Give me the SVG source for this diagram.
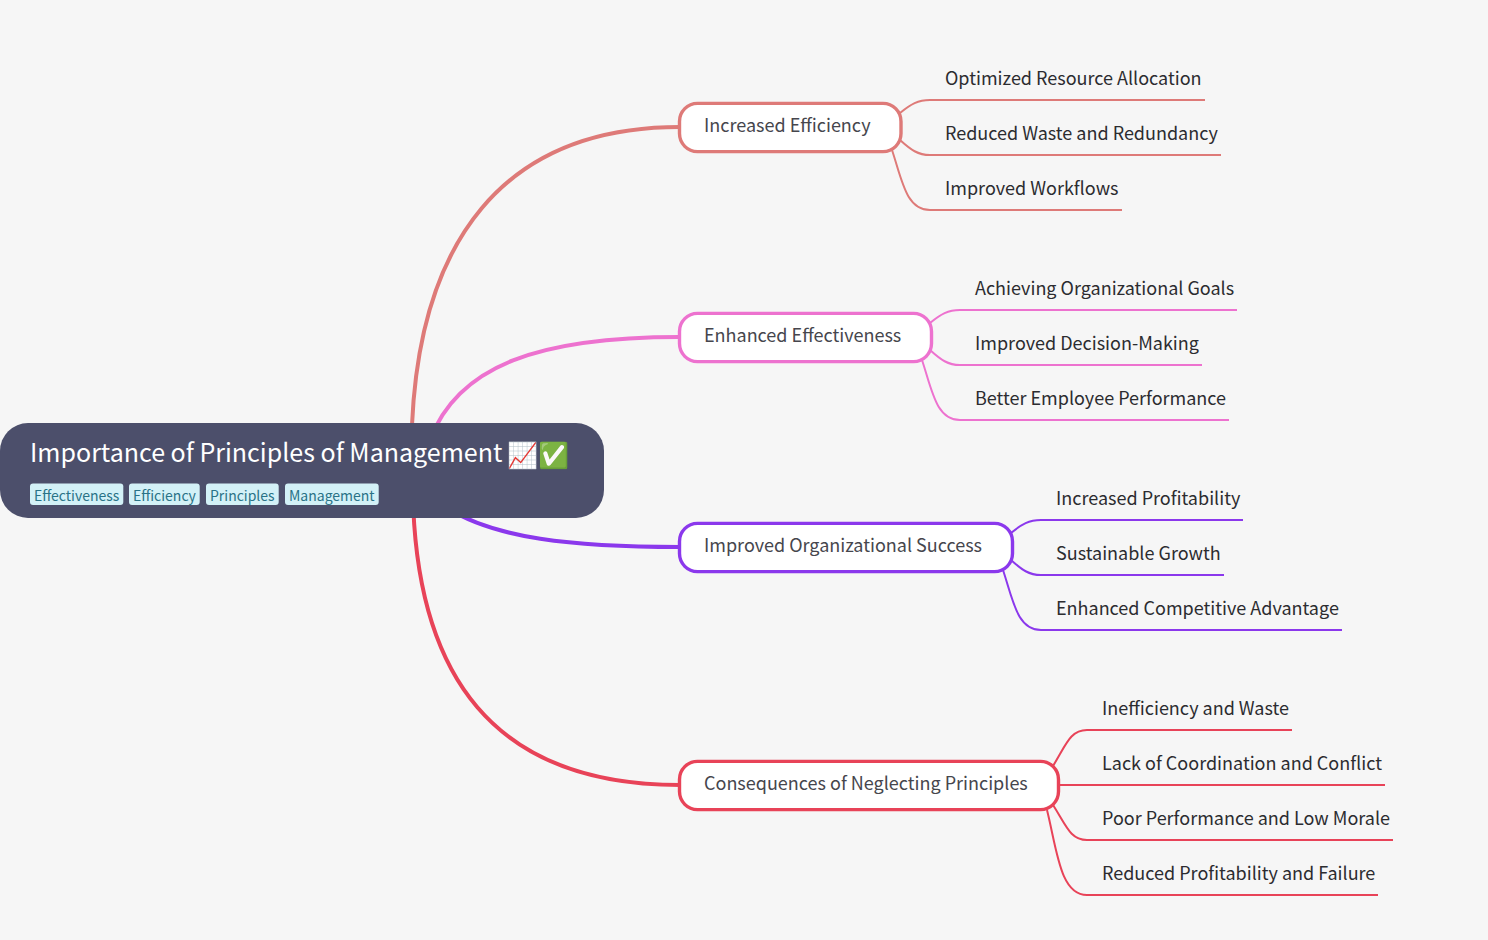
<svg xmlns="http://www.w3.org/2000/svg" width="1488" height="940" viewBox="0 0 1488 940">
<style>
text{font-family:"Noto Sans CJK SC","Noto Sans",sans-serif}
.b{fill:#fff;stroke-width:3.4}
.bt{font-size:18px;fill:#46464d}
.lt{font-size:18px;fill:#2c2c30}
.tag{fill:#d3f1f7}
.tt{font-size:14px;fill:#2a7387}
.c{fill:none;stroke-width:2}
.m{fill:none;stroke-width:4}
.r{stroke:#de7a78}.p{stroke:#ed72cf}.v{stroke:#8b38ec}.e{stroke:#e84358}
</style>
<rect width="1488" height="940" fill="#f6f6f6"/>
<g id="connectors">
<path class="m r" d="M412 425C420 245 500 127 680 127"/>
<path class="m p" d="M430 440C458 365 540 337 680 337"/>
<path class="m v" d="M447 508C495 538 570 547 680 547"/>
<path class="m e" d="M413 500C418 672 490 785 680 785"/>
<path class="c r" d="M900 113C911 104 918 100 930 100H1205"/>
<path class="c r" d="M900 140C911 150 918 155 930 155H1221"/>
<path class="c r" d="M892 150C902 180 906 210 930 210H1122"/>
<path class="c p" d="M930 323C941 314 948 310 960 310H1237"/>
<path class="c p" d="M930 350C941 360 948 365 960 365H1202"/>
<path class="c p" d="M922 360C932 390 936 420 960 420H1229"/>
<path class="c v" d="M1011 533C1022 524 1029 520 1041 520H1243"/>
<path class="c v" d="M1011 560C1022 570 1029 575 1041 575H1224"/>
<path class="c v" d="M1003 570C1013 600 1017 630 1041 630H1342"/>
<path class="c e" d="M1053 766C1066 745 1070 730 1087 730H1292"/>
<path class="c e" d="M1058 785H1385"/>
<path class="c e" d="M1053 805C1066 825 1070 840 1087 840H1393"/>
<path class="c e" d="M1047 810C1057 850 1060 895 1087 895H1378"/>
</g>
<g id="root">
<rect x="0" y="423" width="604" height="95" rx="28" fill="#4c4f6b"/>
<text x="30" y="462" font-size="25" fill="#fff">Importance of Principles of Management <tspan dx="-1" dy="1.5">📈✅</tspan></text>
<rect class="tag" x="30" y="483.5" width="93.3" height="21.5" rx="3"/><text class="tt" x="34" y="501">Effectiveness</text>
<rect class="tag" x="129" y="483.5" width="70.7" height="21.5" rx="3"/><text class="tt" x="133" y="501">Efficiency</text>
<rect class="tag" x="206" y="483.5" width="72.7" height="21.5" rx="3"/><text class="tt" x="210" y="501">Principles</text>
<rect class="tag" x="285" y="483.5" width="93.7" height="21.5" rx="3"/><text class="tt" x="289" y="501">Management</text>
</g>
<g id="n1"><rect class="b r" x="679.5" y="103.4" width="221.5" height="48.2" rx="18"/><text class="bt" x="704" y="132">Increased Efficiency</text></g>
<g id="n2"><rect class="b p" x="679.5" y="313.4" width="252" height="48.2" rx="18"/><text class="bt" x="704" y="342">Enhanced Effectiveness</text></g>
<g id="n3"><rect class="b v" x="679.5" y="523.4" width="333" height="48.2" rx="18"/><text class="bt" x="704" y="552">Improved Organizational Success</text></g>
<g id="n4"><rect class="b e" x="679.5" y="761.4" width="379" height="48.2" rx="18"/><text class="bt" x="704" y="790">Consequences of Neglecting Principles</text></g>
<g id="l11"><text class="lt" x="945" y="85">Optimized Resource Allocation</text></g>
<g id="l12"><text class="lt" x="945" y="140">Reduced Waste and Redundancy</text></g>
<g id="l13"><text class="lt" x="945" y="195">Improved Workflows</text></g>
<g id="l21"><text class="lt" x="975" y="295">Achieving Organizational Goals</text></g>
<g id="l22"><text class="lt" x="975" y="350">Improved Decision-Making</text></g>
<g id="l23"><text class="lt" x="975" y="405">Better Employee Performance</text></g>
<g id="l31"><text class="lt" x="1056" y="505">Increased Profitability</text></g>
<g id="l32"><text class="lt" x="1056" y="560">Sustainable Growth</text></g>
<g id="l33"><text class="lt" x="1056" y="615">Enhanced Competitive Advantage</text></g>
<g id="l41"><text class="lt" x="1102" y="715">Inefficiency and Waste</text></g>
<g id="l42"><text class="lt" x="1102" y="770">Lack of Coordination and Conflict</text></g>
<g id="l43"><text class="lt" x="1102" y="825">Poor Performance and Low Morale</text></g>
<g id="l44"><text class="lt" x="1102" y="880">Reduced Profitability and Failure</text></g>
</svg>
